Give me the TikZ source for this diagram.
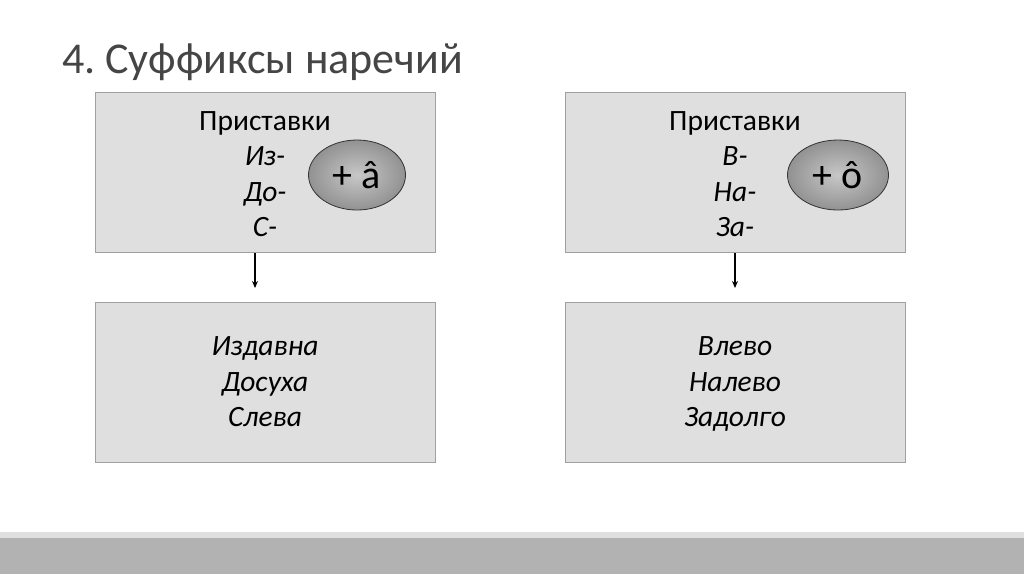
\documentclass[tikz,border=0pt]{standalone}
\usepackage{fontspec}
\setmainfont{Carlito}
\frenchspacing
\usetikzlibrary{arrows.meta,shapes.geometric}
\definecolor{boxfill}{HTML}{DFDFDF}
\definecolor{boxline}{HTML}{A0A0A0}
\definecolor{ellfill}{HTML}{A2A2A2}
\definecolor{titlecol}{HTML}{454545}
\begin{document}
\begin{tikzpicture}[x=1pt,y=-1pt,
  panel/.style={draw=boxline,fill=boxfill,line width=1pt},
  oval/.style={ellipse,draw=black!80,line width=0.8pt,inner color=ellfill!60,outer color=ellfill!90!black,minimum width=97pt,minimum height=70pt,inner sep=0pt,font=\fontsize{40}{44}\selectfont},
  txt/.style={align=center,font=\fontsize{29.5}{35.5}\selectfont},
  conn/.style={-{Stealth[length=7pt,width=6pt]},line width=1.1pt}]
\useasboundingbox (0,0) rectangle (1024,574);
\fill[white] (0,0) rectangle (1024,574);
% bottom bar
\fill[black!12] (0,532) rectangle (1024,538);
\fill[black!30] (0,538) rectangle (1024,574);
% title
\node[anchor=west,inner sep=0pt,text=titlecol,font=\fontsize{44}{48}\selectfont] (title) at (62,62) {4. Суффиксы наречий};
% boxes
\draw[panel] (95,92) rectangle (435,252);
\draw[panel] (565,92) rectangle (905,252);
\draw[panel] (95,302) rectangle (435,462);
\draw[panel] (565,302) rectangle (905,462);
% texts top
\node[txt] (p1) at (265,174) {Приставки\\\itshape Из-\\\itshape До-\\\itshape С-};
\node[txt] (p2) at (735,174) {Приставки\\\itshape В-\\\itshape На-\\\itshape За-};
\node[oval] (e1) at (357,175) {+ â};
\node[oval,minimum width=101pt] (e2) at (838,175) {+ ô};
% bottom texts
\node[txt] (r1) at (265,384) {\itshape Издавна\\\itshape Досуха\\\itshape Слева\vphantom{Д}};
\node[txt] (r2) at (735,384) {\itshape Влево\\\itshape Налево\\\itshape Задолго\vphantom{Д}};
% arrows
\coordinate (a1) at (255,253);
\coordinate (a1e) at (255,288);
\coordinate (a2) at (735,253);
\coordinate (a2e) at (735,288);
\draw[conn] (a1) -- (a1e);
\draw[conn] (a2) -- (a2e);
\end{tikzpicture}
\end{document}
